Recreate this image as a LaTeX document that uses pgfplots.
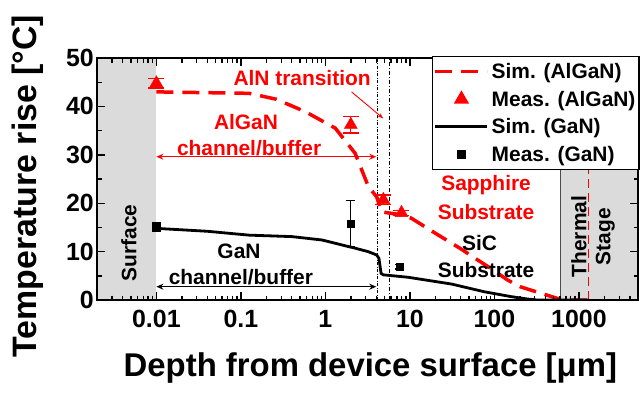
\documentclass[border=0pt]{standalone}
\usepackage{fontspec}
\setmainfont{Liberation Sans}
\usepackage{pgfplots}
\pgfplotsset{compat=1.18}
\usetikzlibrary{arrows.meta}
\newcommand{\fs}[1]{\fontsize{#1}{#1}\selectfont\bfseries}
\pgfplotsset{
  linelegend/.style={legend image code/.code={\draw[##1] (0bp,0bp) -- (52bp,0bp);}},
  marklegend/.style={legend image code/.code={\draw[##1] plot coordinates {(26bp,0bp)};}},
}
\begin{document}
\begin{tikzpicture}
\begin{axis}[
  xmode=log, scale only axis, width=540.7bp, height=242bp,
  xmin=0.002, xmax=5000, ymin=0, ymax=50,
  axis on top,
  axis line style={line width=1.8bp},
  tick style={line width=1.4bp, black},
  major tick length=8bp, minor tick length=4.5bp,
  tick align=inside,
  xtick={0.01,0.1,1,10,100,1000},
  xticklabels={0.01,0.1,1,10,100,1000},
  minor xtick={0.002,0.003,0.004,0.005,0.006,0.007,0.008,0.009,
    0.02,0.03,0.04,0.05,0.06,0.07,0.08,0.09,
    0.2,0.3,0.4,0.5,0.6,0.7,0.8,0.9,
    2,3,4,5,6,7,8,9,20,30,40,50,60,70,80,90,
    200,300,400,500,600,700,800,900,2000,3000,4000,5000},
  ytick={0,10,20,30,40,50}, minor ytick={5,15,25,35,45},
  /pgf/number format/assume math mode=true,
  ticklabel style={font=\fs{25}},
  xticklabel style={yshift=-7bp},
  xlabel={Depth from device surface [μm]},
  ylabel={Temperature rise [°C]},
  xlabel style={font=\fs{33}, at={(axis description cs:0.505,-0.281)}, anchor=center},
  ylabel style={font=\fs{34}, at={(axis description cs:-0.128,0.471)}, anchor=center},
  legend style={at={(rel axis cs:1.003,1.008)}, anchor=north east, draw=black,
    line width=1.3bp, fill=white, font=\fs{21}, inner xsep=1bp, inner ysep=4bp,
    row sep=6bp, nodes={inner sep=2.5bp}},
  legend cell align=left,
  error bars/error bar style={line width=1.3bp},
]
% shaded regions
\fill[gray!28] (axis cs:0.002,0) rectangle (axis cs:0.01,50);
\fill[gray!28] (axis cs:600,0) rectangle (axis cs:5000,50);
\draw[line width=1bp, black!70] (axis cs:600,0) -- (axis cs:600,50);
% inward tick marks drawn as marks on the axis edges
\addplot[only marks, mark=|, mark size=4bp, line width=1.4bp, black, forget plot,
  mark options={yshift=4bp, line width=1.4bp}]
  coordinates {(0.01,0) (0.1,0) (1,0) (10,0) (100,0) (1000,0)};
\addplot[only marks, mark=|, mark size=4bp, line width=1.4bp, black, forget plot,
  mark options={yshift=-4bp, line width=1.4bp}]
  coordinates {(0.01,50) (0.1,50) (1,50) (10,50) (100,50) (1000,50)};
\addplot[only marks, mark=|, mark size=2.25bp, line width=1.4bp, black, forget plot,
  mark options={yshift=2.25bp, line width=1.4bp}]
  coordinates {(0.003,0) (0.004,0) (0.005,0) (0.006,0) (0.007,0) (0.008,0) (0.009,0)
  (0.02,0) (0.03,0) (0.04,0) (0.05,0) (0.06,0) (0.07,0) (0.08,0) (0.09,0)
  (0.2,0) (0.3,0) (0.4,0) (0.5,0) (0.6,0) (0.7,0) (0.8,0) (0.9,0)
  (2,0) (3,0) (4,0) (5,0) (6,0) (7,0) (8,0) (9,0)
  (20,0) (30,0) (40,0) (50,0) (60,0) (70,0) (80,0) (90,0)
  (200,0) (300,0) (400,0) (500,0) (600,0) (700,0) (800,0) (900,0)
  (2000,0) (3000,0) (4000,0)};
\addplot[only marks, mark=|, mark size=2.25bp, line width=1.4bp, black, forget plot,
  mark options={yshift=-2.25bp, line width=1.4bp}]
  coordinates {(0.003,50) (0.004,50) (0.005,50) (0.006,50) (0.007,50) (0.008,50) (0.009,50)
  (0.02,50) (0.03,50) (0.04,50) (0.05,50) (0.06,50) (0.07,50) (0.08,50) (0.09,50)
  (0.2,50) (0.3,50) (0.4,50) (0.5,50) (0.6,50) (0.7,50) (0.8,50) (0.9,50)
  (2,50) (3,50) (4,50) (5,50) (6,50) (7,50) (8,50) (9,50)
  (20,50) (30,50) (40,50) (50,50) (60,50) (70,50) (80,50) (90,50)
  (200,50) (300,50) (400,50) (500,50) (600,50) (700,50) (800,50) (900,50)
  (2000,50) (3000,50) (4000,50)};
\addplot[only marks, mark=-, mark size=4bp, line width=1.4bp, black, forget plot,
  mark options={xshift=4bp, line width=1.4bp}]
  coordinates {(0.002,10) (0.002,20) (0.002,30) (0.002,40)};
\addplot[only marks, mark=-, mark size=4bp, line width=1.4bp, black, forget plot,
  mark options={xshift=-4bp, line width=1.4bp}]
  coordinates {(5000,10) (5000,20) (5000,30) (5000,40)};
\addplot[only marks, mark=-, mark size=2.25bp, line width=1.4bp, black, forget plot,
  mark options={xshift=2.25bp, line width=1.4bp}]
  coordinates {(0.002,5) (0.002,15) (0.002,25) (0.002,35) (0.002,45)};
\addplot[only marks, mark=-, mark size=2.25bp, line width=1.4bp, black, forget plot,
  mark options={xshift=-2.25bp, line width=1.4bp}]
  coordinates {(5000,5) (5000,15) (5000,25) (5000,35) (5000,45)};
% layer boundaries
\draw[line width=0.9bp, dash pattern=on 3bp off 1.5bp on 1bp off 1.5bp] (axis cs:4.1,0) -- (axis cs:4.1,50);
\draw[line width=0.9bp, dash pattern=on 4bp off 2bp on 1bp off 2bp] (axis cs:5.8,0) -- (axis cs:5.8,50);
% thermal stage red line
\addplot[red, line width=1.8bp, dash pattern=on 9bp off 5bp, forget plot] coordinates {(1300,0) (1300,50)};

% legend images
\addlegendimage{red, line width=3.5bp, dash pattern=on 17bp off 9bp, linelegend}
\addlegendentry{Sim. (AlGaN)}
\addlegendimage{red, mark=triangle*, mark size=7.5bp, only marks, marklegend}
\addlegendentry{Meas. (AlGaN)}
\addlegendimage{black, line width=2.8bp, linelegend}
\addlegendentry{Sim. (GaN)}
\addlegendimage{black, mark=square*, mark size=4bp, only marks, marklegend}
\addlegendentry{Meas. (GaN)}

% simulations
\addplot[red, line width=3.5bp, dash pattern=on 17bp off 9bp, forget plot] coordinates {
 (0.01,43.0) (0.125,42.7) (0.26,41.5) (0.58,38.9) (1.31,35.5) (2.25,30.3)
 (3.23,23.4) (4.05,21.3) (4.63,18.2) (7.95,17.6) (10.4,16.9) (17.2,14.5)
 (27,12.4) (39,10.7) (63,8.3) (91,6.5) (144,4.1) (205,2.7) (355,1.4)
 (550,0.35) (750,0) (1300,0)};
\addplot[black, line width=2.8bp, forget plot] coordinates {
 (0.01,14.8) (0.04,14.2) (0.125,13.4) (0.4,13.1) (0.91,12.4) (2.25,10.7)
 (3.2,10.0) (4.05,9.3) (4.3,8.6) (4.56,5.5) (4.85,5.2) (9.5,4.7) (31,3.3)
 (76,1.7) (157,0.7) (247,0.2) (320,0) (1300,0)};

% measurements
\addplot[red, only marks, mark=triangle*, mark size=7.5bp, forget plot,
  error bars/.cd, y dir=both, y explicit,
  error mark options={rotate=90, mark size=8bp, line width=1.3bp, red}]
  coordinates {(0.01,44.8) +- (0,1.0) (2,36.2) +- (0,1.7) (4.85,20.7) +- (0,1.0) (7.95,18.0) +- (0,0.5)};
\addplot[black, only marks, mark=square*, mark size=3.8bp, forget plot,
  error bars/.cd, y dir=both, y explicit,
  error mark options={rotate=90, mark size=4.5bp, line width=1.3bp, black}]
  coordinates {(0.01,15.0) +- (0,0.9) (2,15.8) +- (0,4.8) (7.6,6.9) +- (0,0.5)};

% arrows
\draw[red, line width=1.3bp, {Stealth[length=7bp,width=6bp]}-{Stealth[length=7bp,width=6bp]}] (axis cs:0.01,29.6) -- (axis cs:4.0,29.6);
\draw[black, line width=1.3bp, {Stealth[length=7bp,width=6bp]}-{Stealth[length=7bp,width=6bp]}] (axis cs:0.01,2.75) -- (axis cs:4.0,2.75);
\draw[red, line width=0.9bp, -{Stealth[length=6bp,width=4bp]}] (axis cs:2.04,43.0) -- (axis cs:4.85,37.5);

% texts
\node[red, font=\fs{21}] at (axis cs:0.53,45.8) {AlN transition};
\node[red, font=\fs{21}] at (axis cs:0.115,36.8) {AlGaN};
\node[red, font=\fs{21}] at (axis cs:0.125,31.3) {channel/buffer};
\node[black, font=\fs{21}] at (axis cs:0.095,10.0) {GaN};
\node[black, font=\fs{21}] at (axis cs:0.1,4.7) {channel/buffer};
\node[black, font=\fs{21}, rotate=90] at (axis cs:0.00472,11.8) {Surface};
\node[red, font=\fs{21}] at (axis cs:79.7,23.8) {Sapphire};
\node[red, font=\fs{21}] at (axis cs:79.7,18.2) {Substrate};
\node[black, font=\fs{21}] at (axis cs:66.6,11.7) {SiC};
\node[black, font=\fs{21}] at (axis cs:79.7,6.2) {Substrate};
\node[black, font=\fs{21}, rotate=90] at (axis cs:1000,13.1) {Thermal};
\node[black, font=\fs{21}, rotate=90] at (axis cs:2056,13.1) {Stage};
\end{axis}
\pgfresetboundingbox
\path[use as bounding box] (-97.3bp,-95bp) rectangle (545.7bp,300bp);
\end{tikzpicture}
\end{document}
